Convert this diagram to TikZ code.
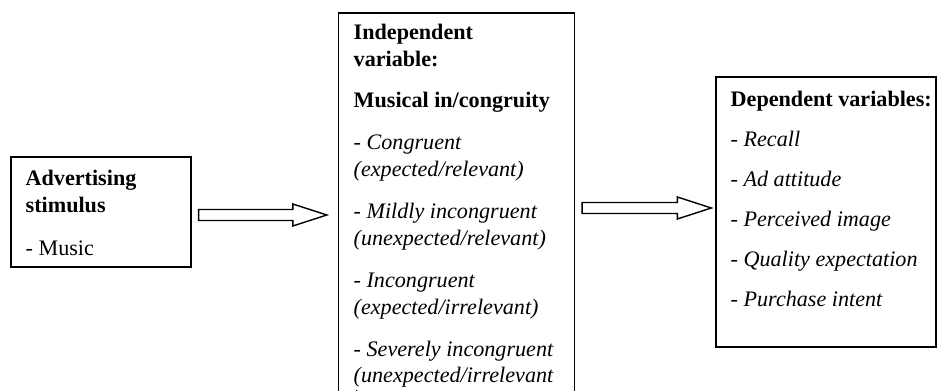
\documentclass[tikz,border=0pt]{standalone}
\usepackage{fontspec}
\setmainfont{Liberation Serif}
\usetikzlibrary{calc}
\begin{document}
\begin{tikzpicture}[x=.02cm,y=-.02cm,line width=.8pt,font=\fontsize{12.6}{15}\selectfont,
		box/.style={draw,inner sep=0},
		txt/.style={inner sep=0,anchor=base west}]
			\def\blockarr(#1,#2){($(#1)+(0,-5.5)$)--($(#2)+(-34,-5.5)$)--($(#2)+(-34,-11)$)--(#2)
				--($(#2)+(-34,11)$)--($(#2)+(-34,5.5)$)--($(#1)+(0,5.5)$)--cycle}
			\useasboundingbox (0,0) rectangle (937,391);
			\clip (0,0) rectangle (937,391);
			%===========================================
			\node[box,minimum width=3.6cm,minimum height=2.2cm] (stim) at (101,212) {};
			\node[box,minimum width=4.72cm,minimum height=8.14cm] (indep) at (456.5,216.5) {};
			\node[box,minimum width=4.4cm,minimum height=5.4cm] (dep) at (826,212) {};
			%===========================================
			\foreach \y/\t [count=\i] in {186/{\textbf{Advertising}},213/{\textbf{stimulus}},256/{- Music}}
				\node[txt] (stim\i) at (25,\y) {\t};
			\foreach \y/\t [count=\i] in {40/{\textbf{Independent}},67/{\textbf{variable:}},
				108/{\textbf{Musical in/congruity}},
				150/{- \textit{Congruent}},177/{\textit{(expected/relevant)}},
				219/{- \textit{Mildly incongruent}},246/{\textit{(unexpected/relevant)}},
				288/{- \textit{Incongruent}},315/{\textit{(expected/irrelevant)}},
				357/{- \textit{Severely incongruent}},383/{\textit{(unexpected/irrelevant}},
				406/{\textit{)}}}
				\node[txt] (indep\i) at (353,\y) {\t};
			\foreach \y/\t [count=\i] in {107/{\textbf{Dependent variables:}},
				147/{- \textit{Recall}},187/{- \textit{Ad attitude}},227/{- \textit{Perceived image}},
				267/{- \textit{Quality expectation}},307/{- \textit{Purchase intent}}}
				\node[txt] (dep\i) at (730,\y) {\t};
			%===========================================
			\coordinate (t1) at ($(stim.east)+(7,3)$);
			\coordinate (h1) at ($(t1-|indep.west)+(-11,0)$);
			\coordinate (t2) at ($(indep.east)+(7,-8.5)$);
			\coordinate (h2) at ($(t2-|dep.west)+(-4,0)$);
			\draw \blockarr(t1,h1);
			\draw \blockarr(t2,h2);
	\end{tikzpicture}
\end{document}
